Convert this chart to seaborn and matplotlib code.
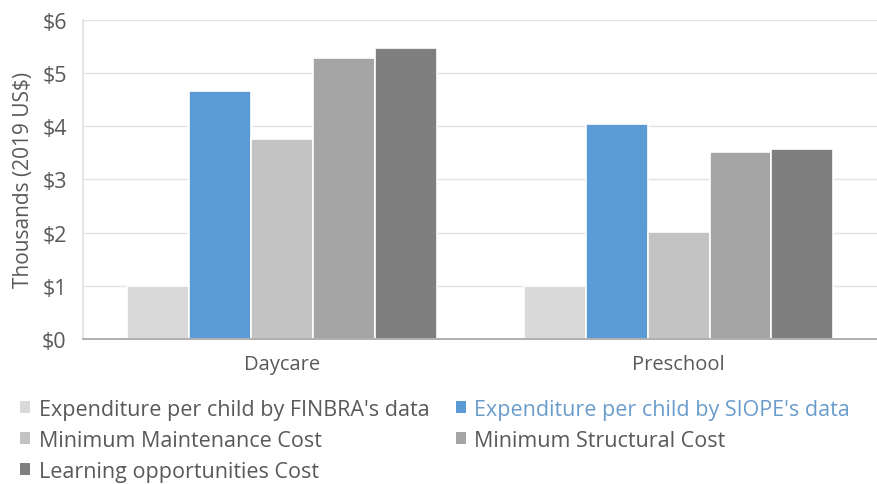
import matplotlib
matplotlib.use("Agg")
import matplotlib.pyplot as plt
import seaborn as sns
import pandas as pd
from matplotlib.patches import Patch
from matplotlib.ticker import FuncFormatter

categories = ["Daycare", "Preschool"]
series = ["Expenditure per child by FINBRA's data",
          "Expenditure per child by SIOPE's data",
          "Minimum Maintenance Cost",
          "Minimum Structural Cost",
          "Learning opportunities Cost"]
finbra = [1.00, 1.00]
siope = [4.66, 4.05]
maintenance = [3.76, 2.02]
structural = [5.29, 3.52]
learning = [5.48, 3.58]
colors = ["#d9d9d9", "#5b9bd5", "#c3c3c3", "#a5a5a5", "#7f7f7f"]

values = [finbra, siope, maintenance, structural, learning]
rows = []
for s, vals in zip(series, values):
    for c, v in zip(categories, vals):
        rows.append({"Category": c, "Series": s, "Value": v})
df = pd.DataFrame(rows)

sns.set_theme(style="white")
plt.rcParams['font.family'] = ['Open Sans', 'DejaVu Sans']
text_color = "#595959"

fig = plt.figure(figsize=(8.77, 4.85), dpi=100)
ax = fig.add_axes([0.095, 0.299, 0.905, 0.658])
sns.barplot(data=df, x="Category", y="Value", hue="Series", hue_order=series,
            palette=colors, width=0.78, edgecolor="white", linewidth=1.2,
            ax=ax, legend=False, saturation=1)

ax.set_ylim(0, 6)
ax.set_yticks(range(0, 7))
ax.yaxis.set_major_formatter(FuncFormatter(lambda v, p: f"${int(v)}"))
ax.grid(axis="y", color="#e3e3e3", linewidth=1)
ax.set_axisbelow(True)
for side in ["top", "right"]:
    ax.spines[side].set_visible(False)
ax.spines["left"].set_color("#e3e3e3")
ax.spines["bottom"].set_color("#a6a6a6")
ax.tick_params(axis="x", colors=text_color, labelsize=14.5, length=0, pad=11)
ax.tick_params(axis="y", colors=text_color, labelsize=15.5, length=0, pad=12)
ax.set_xlabel("")
ax.set_ylabel("Thousands (2019 US$)", color=text_color, fontsize=15, labelpad=6)
ax.set_xlim(-0.5, 1.5)

handles = [Patch(facecolor=c, edgecolor="none") for c in colors]
order_handles = [handles[0], handles[2], handles[4], handles[1], handles[3]]
order_labels = [series[0], series[2], series[4], series[1], series[3]]
leg = fig.legend(order_handles, order_labels, ncol=2, loc="upper left",
                 bbox_to_anchor=(0.006, 0.207), frameon=False, fontsize=15.5,
                 handlelength=0.45, handleheight=0.45, handletextpad=0.4,
                 columnspacing=1.25, labelspacing=0.47, borderpad=0.2)
for t in leg.get_texts():
    t.set_color(text_color)
leg.get_texts()[3].set_color("#6a9ccc")

fig.savefig("out.png", dpi=100)
